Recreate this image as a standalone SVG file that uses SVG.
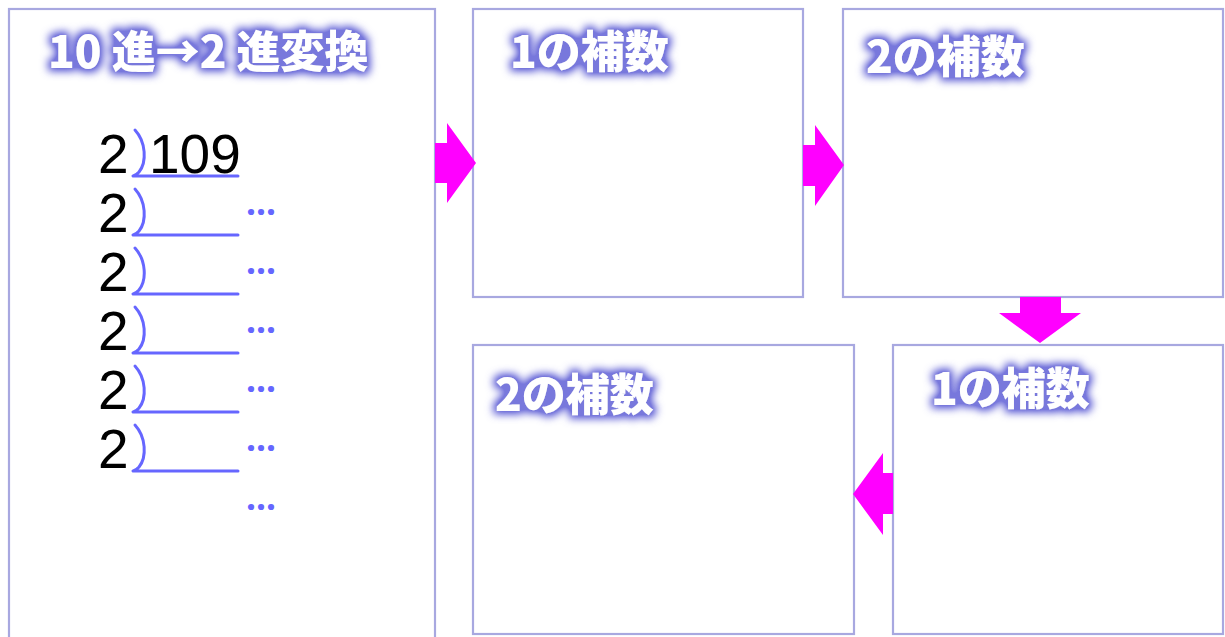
<svg xmlns="http://www.w3.org/2000/svg" xmlns:xlink="http://www.w3.org/1999/xlink" width="1225" height="637" viewBox="0 0 1225 637">
<style>
.box{fill:#ffffff;stroke:#a8a8e0;stroke-width:2.2}
.title{font-family:"Noto Sans CJK JP","Noto Sans",sans-serif;font-weight:900;font-size:44px;fill:#ffffff;filter:url(#glow)}
.num{font-family:"Liberation Sans",Arial,sans-serif;font-size:55px;fill:#000000}
.br{fill:none;stroke:#6666ff;stroke-width:3;stroke-linecap:round;stroke-linejoin:round}
.dots{font-family:"Noto Sans CJK JP",sans-serif;font-size:30px;fill:#6666ff;stroke:#6666ff;stroke-width:2.2;stroke-linejoin:round}
.arrow{fill:#ff00ff}
</style>
<defs>
<filter id="glow" x="-20%" y="-50%" width="140%" height="200%">
<feMorphology in="SourceAlpha" operator="dilate" radius="3" result="d"/>
<feGaussianBlur in="d" stdDeviation="4" result="b"/>
<feComponentTransfer in="b" result="b2"><feFuncA type="linear" slope="1.4"/></feComponentTransfer>
<feFlood flood-color="#7878dc"/>
<feComposite in2="b2" operator="in" result="g"/>
<feMerge><feMergeNode in="g"/><feMergeNode in="SourceGraphic"/></feMerge>
</filter>
<path id="bracket" class="br" d="M135,130 C146,142 147,162 139,172 Q136,175.5 133,176 L238,176"/>
</defs>
<g id="node-decimal-to-binary">
<rect class="box" x="9" y="9" width="426" height="640"/>
<text class="title" x="48" y="68">10 進→2 進変換</text>
<text class="num" x="98" y="173">2</text>
<text class="num" x="149" y="173">109</text>
<text class="num" x="98" y="232">2</text>
<text class="num" x="98" y="291">2</text>
<text class="num" x="98" y="350">2</text>
<text class="num" x="98" y="409">2</text>
<text class="num" x="98" y="468">2</text>
<use xlink:href="#bracket"/>
<use xlink:href="#bracket" y="59"/>
<use xlink:href="#bracket" y="118"/>
<use xlink:href="#bracket" y="177"/>
<use xlink:href="#bracket" y="236"/>
<use xlink:href="#bracket" y="295"/>
<text class="dots" x="246" y="223">…</text>
<text class="dots" x="246" y="282">…</text>
<text class="dots" x="246" y="341">…</text>
<text class="dots" x="246" y="400">…</text>
<text class="dots" x="246" y="459">…</text>
<text class="dots" x="246" y="518">…</text>
</g>
<g id="node-ones-complement-1">
<rect class="box" x="473" y="9" width="330" height="288"/>
<text class="title" x="510" y="68">1の補数</text>
</g>
<g id="node-twos-complement-1">
<rect class="box" x="843" y="9" width="380" height="288"/>
<text class="title" x="866" y="73">2の補数</text>
</g>
<g id="node-ones-complement-2">
<rect class="box" x="893" y="345" width="330" height="289"/>
<text class="title" x="931" y="405">1の補数</text>
</g>
<g id="node-twos-complement-2">
<rect class="box" x="473" y="345" width="381" height="289"/>
<text class="title" x="495" y="411">2の補数</text>
</g>
<g id="connectors">
<polygon class="arrow" points="435,143 447,143 447,123 476,163 447,203 447,183 435,183"/>
<polygon class="arrow" points="803,145 815,145 815,125 844,165 815,206 815,186 803,186"/>
<polygon class="arrow" points="1020,297 1061,297 1061,313 1081,313 1040,343 999,313 1020,313"/>
<polygon class="arrow" points="893,473 883,473 883,453 853,494 883,535 883,514 893,514"/>
</g>
</svg>
